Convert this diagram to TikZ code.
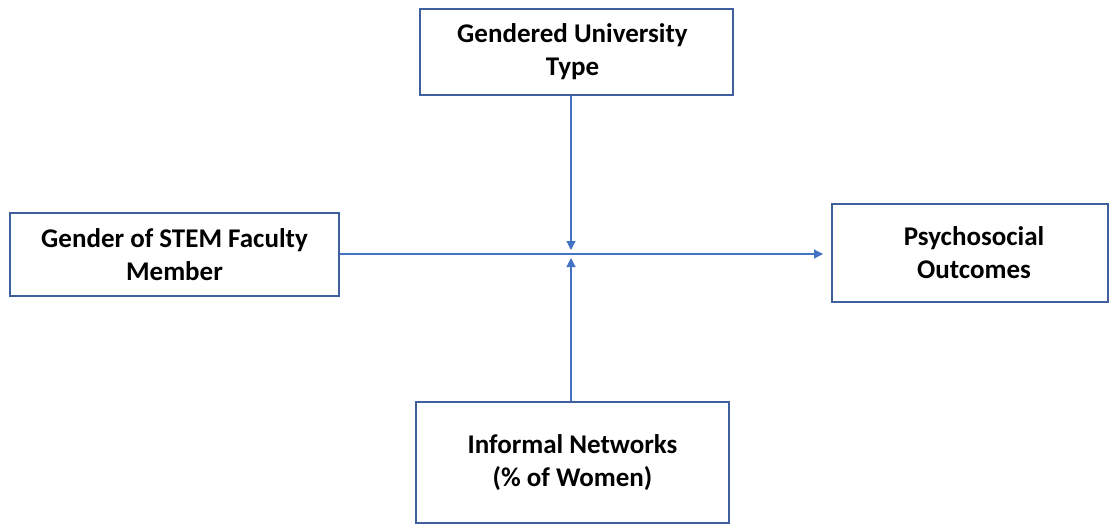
\documentclass[tikz,border=0pt]{standalone}
\usepackage{fontspec}
\setmainfont{Carlito}
\usetikzlibrary{arrows.meta}
\definecolor{boxblue}{HTML}{3F5F9F}
\definecolor{lineblue}{HTML}{4472C4}
\begin{document}
\begin{tikzpicture}[x=1pt,y=-1pt,
  box/.style={draw=boxblue,line width=1.6pt,align=center,inner sep=0pt,
    font=\fontsize{27}{33}\selectfont\bfseries,text=black},
  conn/.style={draw=lineblue,line width=1.2pt,-{Triangle[length=9pt,width=9pt]}}]
\useasboundingbox (0,0) rectangle (1110,525);
\node[box,minimum width=313pt,minimum height=86pt] (top) at (576.5,52) {\hspace*{-8pt}Gendered University\\\hspace*{-8pt}Type};
\node[box,minimum width=329pt,minimum height=83pt] (left) at (174.5,254.5) {Gender of STEM Faculty\\Member};
\node[box,line width=1.2pt,minimum width=276pt,minimum height=98pt] (right) at (970,253) {\hspace*{8pt}Psychosocial\\\hspace*{8pt}Outcomes};
\node[box,minimum width=313pt,minimum height=121pt] (bot) at (572.5,462.5) {Informal Networks\\(\% of Women)};
\coordinate (rin) at (823,254);
\coordinate (mt) at (571,250);
\coordinate (mb) at (571,258);
\draw[conn] (left.east |- rin) -- (rin);
\draw[conn] (top.south -| mt) -- (mt);
\draw[conn] (bot.north -| mb) -- (mb);
\end{tikzpicture}
\end{document}
